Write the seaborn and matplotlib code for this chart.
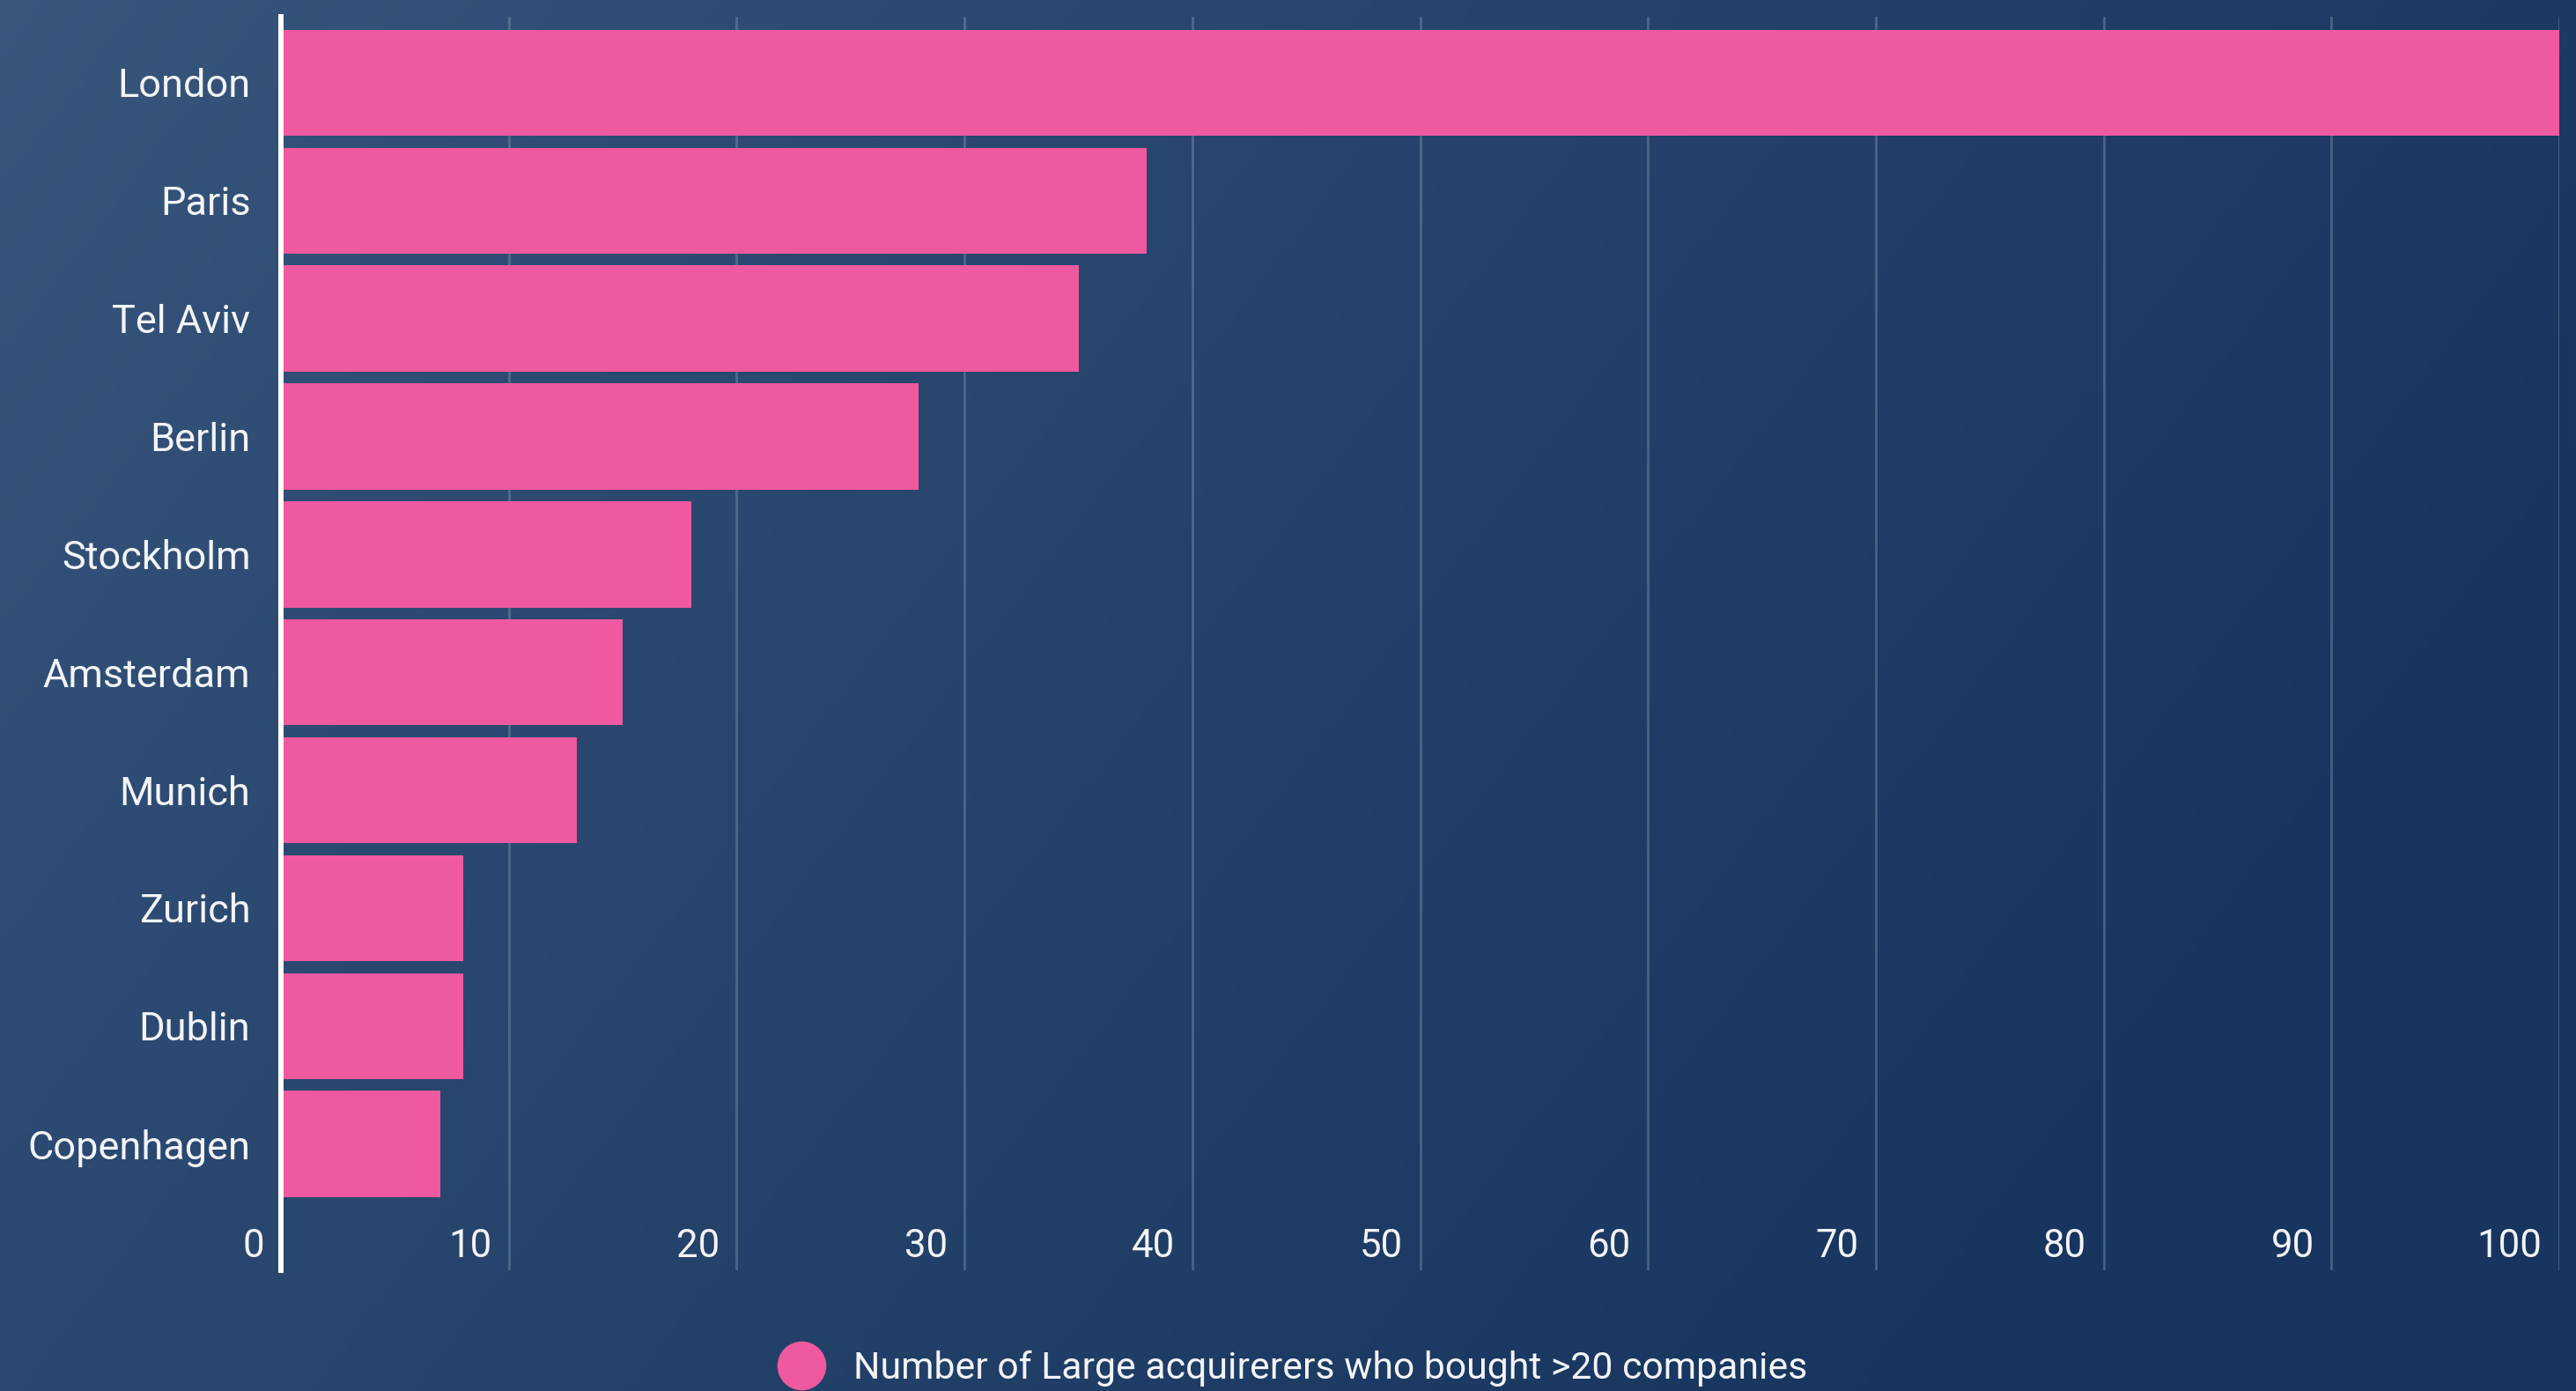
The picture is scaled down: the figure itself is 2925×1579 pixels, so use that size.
import matplotlib
matplotlib.use("Agg")
import matplotlib.pyplot as plt
import numpy as np
import pandas as pd
import seaborn as sns
from matplotlib.lines import Line2D

cities = ["London", "Paris", "Tel Aviv", "Berlin", "Stockholm",
          "Amsterdam", "Munich", "Zurich", "Dublin", "Copenhagen"]
acquirers = [100, 38, 35, 28, 18, 15, 13, 8, 8, 7]
x_ticks = [0, 10, 20, 30, 40, 50, 60, 70, 80, 90, 100]
series_label = "Number of Large acquirerers who bought >20 companies"

PINK = "#EE59A0"
TEXT = "#F2F4F7"

df = pd.DataFrame({"city": cities, "count": acquirers})

sns.set_style("white")
plt.rcParams["font.family"] = ["Roboto", "DejaVu Sans"]

fig = plt.figure(figsize=(29.25, 15.79), dpi=100)

# background gradient (light top-left -> dark navy right)
bg = fig.add_axes([0, 0, 1, 1], zorder=-10)
gx, gy = np.meshgrid(np.linspace(0, 1, 400), np.linspace(0, 1, 220))
t = np.clip(gx * 0.85 + gy * 0.35, 0, 1) ** 0.8
c0 = np.array([0x3A, 0x58, 0x7E]) / 255
c1 = np.array([0x17, 0x35, 0x5E]) / 255
img = c0[None, None, :] * (1 - t[..., None]) + c1[None, None, :] * t[..., None]
bg.imshow(img, aspect="auto", extent=[0, 1, 0, 1], origin="upper")
bg.set_axis_off()

ax = fig.add_axes([0.1091, 0.0868, 0.8844, 0.9012])
ax.set_facecolor("none")

sns.barplot(data=df, x="count", y="city", orient="h", color=PINK,
            width=0.9, linewidth=0, saturation=1, ax=ax, zorder=3)

ax.set_xlim(0, 100)
ax.set_ylim(10.07, -0.56)
ax.set_xticks(x_ticks)
ax.set_xticklabels([])
ax.grid(axis="x", color="#7F93AE", alpha=0.45, linewidth=2, zorder=0)
ax.set_axisbelow(True)
ax.tick_params(axis="x", length=0)
ax.tick_params(axis="y", length=0, pad=25, labelsize=32.5, labelcolor=TEXT)
ax.set_xlabel("")
ax.set_ylabel("")
for side in ["top", "right", "bottom"]:
    ax.spines[side].set_visible(False)
ax.spines["left"].set_color("white")
ax.spines["left"].set_linewidth(4.3)
ax.spines["left"].set_zorder(5)

for t_val in x_ticks:
    ax.annotate(str(t_val), xy=(t_val, 9.96), xytext=(-14, 0),
                textcoords="offset points", ha="right", va="baseline",
                fontsize=31.5, color=TEXT)

handle = Line2D([], [], linestyle="none", marker="o", markersize=40,
                markerfacecolor=PINK, markeredgewidth=0)
fig.legend([handle], [series_label], loc="center",
           bbox_to_anchor=(0.502, 0.0160), frameon=False, fontsize=30.8,
           labelcolor=TEXT, handlelength=1.2, handletextpad=0.8,
           borderpad=0)

fig.savefig("out.png", dpi=100)
